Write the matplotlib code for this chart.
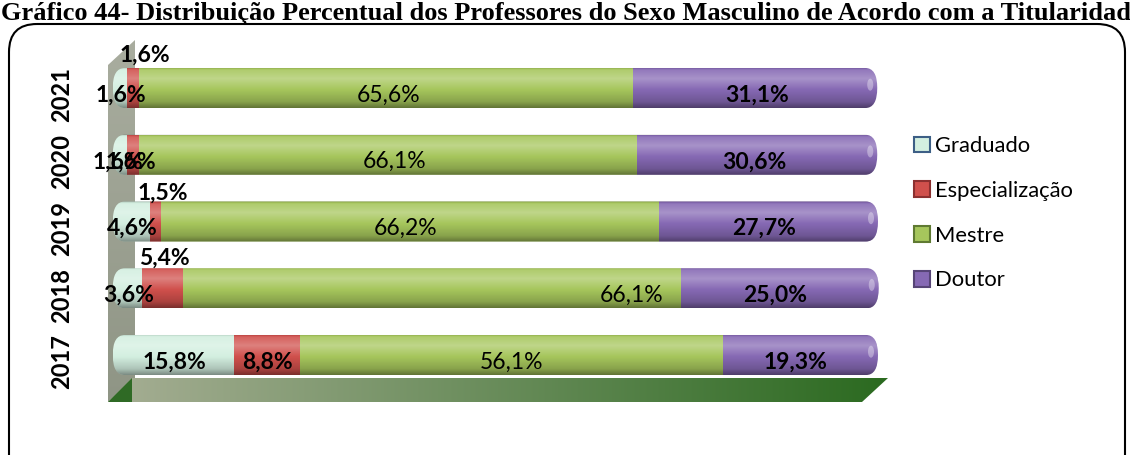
import numpy as np
import matplotlib
matplotlib.use('Agg')
import matplotlib.pyplot as plt
from matplotlib.patches import Polygon, FancyBboxPatch, Patch, Rectangle, Ellipse
from matplotlib.colors import to_rgb
from matplotlib.transforms import ScaledTranslation

# ---------------- data ----------------
years = ['2017', '2018', '2019', '2020', '2021']
series = ['Graduado', 'Especialização', 'Mestre', 'Doutor']
graduado = [15.8, 3.6, 4.6, 1.6, 1.6]
especializacao = [8.8, 5.4, 1.5, 1.6, 1.6]
mestre = [56.1, 66.1, 66.2, 66.1, 65.6]
doutor = [19.3, 25.0, 27.7, 30.6, 31.1]
title = ('Gráfico 44- Distribuição Percentual dos Professores do Sexo '
         'Masculino de Acordo com a Titularidade')

# ---------------- style ----------------
colors = ['#d3efe0', '#d0504c', '#a6c65c', '#8669b4']
edge_colors = ['#3d5f86', '#8c3030', '#5f7a32', '#574577']
label_weights = ['bold', 'bold', 'normal', 'bold']
# label offsets in pixels (dx right, dy down) per series, per year
label_offsets = [
    [(0, 7), (0, 7), (0, 7), (-3, 7), (0, 7)],
    [(0, 7), (2, -30), (8, -28), (-2, 7), (12, -33)],
    [(0, 7), (200, 7), (-5, 7), (7, 7), (2, 7)],
    [(0, 7), (0, 7), (0, 7), (2, 7), (7, 7)],
]

W, H = 1130, 455
DPI = 100
fig = plt.figure(figsize=(W / DPI, H / DPI), dpi=DPI)

# background decoration axes in pixel coordinates
bg = fig.add_axes([0, 0, 1, 1], zorder=0)
bg.set_xlim(0, W)
bg.set_ylim(H, 0)
bg.axis('off')


def grad_poly(ax, verts, c_a, c_b, direction='h', zorder=1):
    poly = Polygon(verts, closed=True, facecolor='none', edgecolor='none', zorder=zorder)
    ax.add_patch(poly)
    xs = [v[0] for v in verts]
    ys = [v[1] for v in verts]
    n = 256
    c0 = np.array(to_rgb(c_a))
    c1 = np.array(to_rgb(c_b))
    t = np.linspace(0, 1, n)
    g = c0[None, :] * (1 - t[:, None]) + c1[None, :] * t[:, None]
    img = g[None, :, :] if direction == 'h' else g[:, None, :]
    im = ax.imshow(img, extent=[min(xs), max(xs), max(ys), min(ys)],
                   aspect='auto', interpolation='bilinear', zorder=zorder)
    im.set_clip_path(poly)


# back wall (left side) and floor
grad_poly(bg, [(108, 402), (108, 65), (135, 40), (135, 378)], '#a9ad9f', '#8f9585', 'v', zorder=1)
grad_poly(bg, [(108, 402), (862, 402), (888, 378), (132, 378)], '#a6ae94', '#2b6a20', 'h', zorder=2)
bg.add_patch(Polygon([(108, 402), (132, 378), (132, 402)], closed=True,
                     facecolor='#2f6a25', edgecolor='none', zorder=3))

# rounded outer frame
bg.add_patch(FancyBboxPatch((9, 24), 1116, 470, boxstyle='round,pad=0,rounding_size=28',
                            fill=False, edgecolor='black', linewidth=1.5, zorder=5))
bg.set_xlim(0, W)
bg.set_ylim(H, 0)

# title (runs off the page edge as in the original)
fig.text(1 / W, 1 - 20 / H, title, family='Liberation Serif', fontweight='bold',
         fontsize=19, ha='left', va='baseline')

# ---------------- main axes ----------------
x0px, scale = 115, 7.53
xmin, xmax = -1.0, 103.0
row_px = 66.75
yc0 = 355
top_px = yc0 - 4 * row_px - row_px / 2
bot_px = yc0 + row_px / 2
ax = fig.add_axes([(x0px + xmin * scale) / W, 1 - bot_px / H,
                   (xmax - xmin) * scale / W, (bot_px - top_px) / H], zorder=2)
ax.patch.set_alpha(0)

ypos = np.arange(len(years))
bar_h = 0.6
data = [graduado, especializacao, mestre, doutor]
totals = np.sum(np.array(data), axis=0)
cap = 10 / scale
lpad = 0.3
r_x = 1.6
m_asp = (bar_h / 2) / r_x

clip_boxes = []
for i, y in enumerate(ypos):
    box = FancyBboxPatch((-lpad, y - bar_h / 2), totals[i] + cap + lpad, bar_h,
                         boxstyle=f'round,pad=0,rounding_size={r_x}',
                         mutation_aspect=m_asp, facecolor='none', edgecolor='none')
    ax.add_patch(box)
    clip_boxes.append(box)

left = np.zeros(len(years))
for k, (vals, col) in enumerate(zip(data, colors)):
    bars = ax.barh(ypos, vals, left=left, height=bar_h, color=col, linewidth=0, zorder=2)
    for i, b in enumerate(bars):
        b.set_clip_path(clip_boxes[i])
    left = left + np.array(vals)

# rounded caps / left start pieces
for i, y in enumerate(ypos):
    r = Rectangle((totals[i], y - bar_h / 2), cap + 0.1, bar_h, facecolor=colors[3],
                  edgecolor='none', zorder=2)
    ax.add_patch(r)
    r.set_clip_path(clip_boxes[i])
    r2 = Rectangle((-lpad, y - bar_h / 2), lpad, bar_h, facecolor=colors[0],
                   edgecolor='none', zorder=2)
    ax.add_patch(r2)
    r2.set_clip_path(clip_boxes[i])

# cylinder shading overlay
n = 128
t = np.linspace(0, 1, n)
prof_t = [0.0, 0.06, 0.28, 0.55, 0.85, 1.0]
prof_v = [-0.30, 0.10, 0.28, 0.0, -0.18, -0.42]
v = np.interp(t, prof_t, prof_v)
shade = np.zeros((n, 1, 4))
shade[:, 0, :3] = np.where(v[:, None] > 0, 1.0, 0.0)
shade[:, 0, 3] = np.abs(v)
for i, y in enumerate(ypos):
    im = ax.imshow(shade, extent=[-lpad, totals[i] + cap, y - bar_h / 2, y + bar_h / 2],
                   aspect='auto', interpolation='bilinear', zorder=3)
    im.set_clip_path(clip_boxes[i])
    gl = Ellipse((totals[i] + cap * 0.3, y + 0.05), 0.8, 0.18, facecolor='white',
                 alpha=0.35, edgecolor='none', zorder=4)
    ax.add_patch(gl)

# data labels
left = np.zeros(len(years))
for k, vals in enumerate(data):
    for i, val in enumerate(vals):
        dx, dy = label_offsets[k][i]
        xc = left[i] + val / 2 + dx / scale
        yl = ypos[i] - dy / row_px
        ax.text(xc, yl, f'{val:.1f}'.replace('.', ',') + '%', ha='center', va='center',
                fontsize=16.5, fontweight=label_weights[k], family='Lato', color='black',
                zorder=6, clip_on=False)
    left = left + np.array(vals)

ax.set_xlim(xmin, xmax)
ax.set_ylim(-0.5, 4.5)
ax.set_xticks([])
ax.set_yticks(ypos, years)
ax.tick_params(axis='y', length=0, pad=30 - 1.0 * scale * 0.72)
for lab in ax.get_yticklabels():
    lab.set_rotation(90)
    lab.set_fontweight('bold')
    lab.set_fontsize(17)
    lab.set_family('Lato')
    lab.set_va('center')
    lab.set_transform(lab.get_transform() + ScaledTranslation(0, -7 / DPI, fig.dpi_scale_trans))
for s in ax.spines.values():
    s.set_visible(False)

# legend
handles = [Patch(facecolor=c, edgecolor=e, linewidth=1.5) for c, e in zip(colors, edge_colors)]
fig.legend(handles, series, loc='upper left', bbox_to_anchor=(914 / W, 1 - 136 / H),
           frameon=False, prop=dict(family='Lato', size=15.8), handlelength=0.72,
           handleheight=0.72, handletextpad=0.25, labelspacing=1.13,
           borderaxespad=0, borderpad=0)

fig.savefig('out.png', dpi=DPI)
